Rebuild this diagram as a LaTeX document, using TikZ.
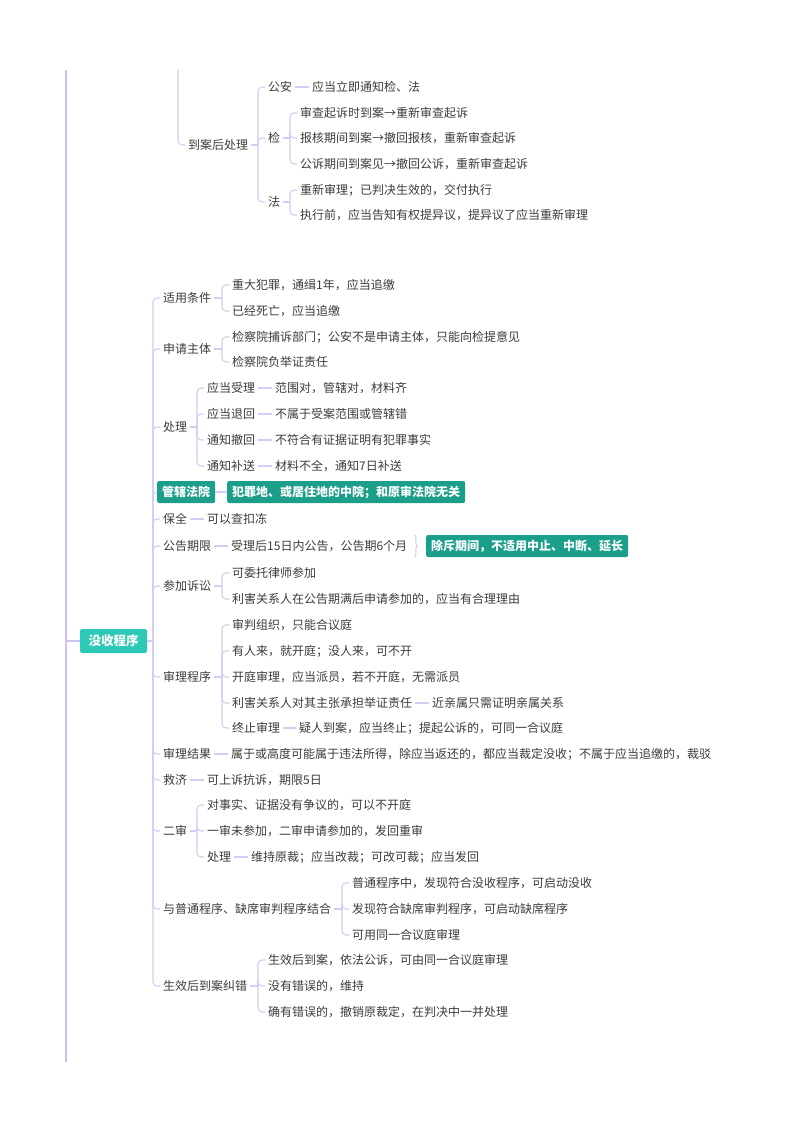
\documentclass[tikz,border=0pt]{standalone}
\usepackage{fontspec}
\setmainfont{Noto Sans CJK SC}
\usetikzlibrary{decorations.pathreplacing}
\definecolor{mmink}{HTML}{3B3B3B}
\definecolor{mmline}{HTML}{D3CCF4}
\definecolor{mmtrunk}{HTML}{CAC2F1}
\definecolor{mmroot}{HTML}{2EC8B6}
\definecolor{mmteal}{HTML}{1B9E8A}
\tikzset{
  mm text/.style={font=\fontsize{12}{14}\selectfont, text=mmink},
  mm topic/.style={anchor=west, inner xsep=3pt, inner ysep=2pt},
  mm root/.style={fill=mmroot, rounded corners=2pt, text=white, inner sep=0pt,
    minimum width=67pt, minimum height=24pt, font=\fontsize{12.5}{14}\selectfont\bfseries},
  mm mark/.style={anchor=west, fill=mmteal, rounded corners=2pt, text=white, inner xsep=5pt,
    minimum height=22pt, font=\fontsize{12}{14}\selectfont\bfseries},
  mm link/.style={draw=mmline, line width=1.1pt, rounded corners=4pt},
  mm trunk/.style={draw=mmtrunk, line width=2pt},
  mm brace/.style={draw=mmline, line width=1.1pt, decorate, decoration={brace, amplitude=3pt}}
}

\begin{document}
\begin{tikzpicture}[mm text, x=1pt, y=-1pt]
  \useasboundingbox (0,0) rectangle (800,1132);
  \coordinate (trunktop) at (66,70);
  \coordinate (trunkbot) at (66,1062);
  \coordinate (prev) at (178,70);
  % 到案后处理
  \node[mm topic] (dah) at (185,145) {到案后处理};
  \node[mm topic] (ga) at (265,87) {公安};
  \node[mm topic] (jian) at (265,138) {检};
  \node[mm topic] (fa) at (265,202) {法};
  \node[mm topic] (ga1) at (309,87) {应当立即通知检、法};
  \foreach \nm/\yy/\txt in {jian1/113/审查起诉时到案→重新审查起诉,
      jian2/138/报核期间到案→撤回报核，重新审查起诉,
      jian3/164/公诉期间到案见→撤回公诉，重新审查起诉,
      fa1/190/重新审理；已判决生效的，交付执行,
      fa2/215/执行前，应当告知有权提异议，提异议了应当重新审理}
    \node[mm topic] (\nm) at (297,\yy) {\txt};
  \coordinate (dahb) at (258,145);
  \coordinate (jianb) at (290,138);
  \coordinate (fab) at (290,202);
  \draw[mm link] (prev) |- (dah.west);
  \draw[mm link] (dah.east) -- (dahb);
  \foreach \c in {ga,jian,fa} \draw[mm link] (dahb) |- (\c.west);
  \draw[mm link] (jian.east) -- (jianb);
  \foreach \c in {jian1,jian2,jian3} \draw[mm link] (jianb) |- (\c.west);
  \draw[mm link] (fa.east) -- (fab);
  \foreach \c in {fa1,fa2} \draw[mm link] (fab) |- (\c.west);
  % 没收程序
  \node[mm root] (root) at (113.5,641) {没收程序};
  \coordinate (rootb) at (153,641);
  \foreach \nm/\yy/\txt in {sy/298/适用条件, sq/349/申请主体, cl/427/处理, bq/519/保全,
      gg/546/公告期限, cj/586/参加诉讼, sl/677/审理程序, jg/754/审理结果, jj/780/救济,
      es/831/二审, jh/909/与普通程序、缺席审判程序结合, sx/986/生效后到案纠错}
    \node[mm topic] (\nm) at (160,\yy) {\txt};
  \node[mm mark] (gx) at (157,492) {管辖法院};
  \node[mm mark] (gx1) at (227,492) {犯罪地、或居住地的中院；和原审法院无关};
  \foreach \nm/\xx/\yy/\txt in {sy1/229/285/重大犯罪，通缉1年，应当追缴,
      sy2/229/311/已经死亡，应当追缴,
      sq1/229/337/检察院捕诉部门；公安不是申请主体，只能向检提意见,
      sq2/229/362/检察院负举证责任,
      yl/204/388/应当受理, yl1/272/388/范围对，管辖对，材料齐,
      yt/204/414/应当退回, yt1/272/414/不属于受案范围或管辖错,
      tc/204/440/通知撤回, tc1/272/440/不符合有证据证明有犯罪事实,
      tb/204/466/通知补送, tb1/272/466/材料不全，通知7日补送,
      bq1/204/519/可以查扣冻,
      gg1/228/546/受理后15日内公告，公告期6个月,
      cj1/229/573/可委托律师参加,
      cj2/229/599/利害关系人在公告期满后申请参加的，应当有合理理由,
      sl1/229/625/审判组织，只能合议庭,
      sl2/229/651/有人来，就开庭；没人来，可不开,
      sl3/229/677/开庭审理，应当派员，若不开庭，无需派员,
      sl4/229/703/利害关系人对其主张承担举证责任, sl41/429/703/近亲属只需证明亲属关系,
      sl5/229/728/终止审理, sl51/296/728/疑人到案，应当终止；提起公诉的，可同一合议庭,
      jg1/228/754/属于或高度可能属于违法所得，除应当返还的，都应当裁定没收；不属于应当追缴的，裁驳,
      jj1/204/780/可上诉抗诉，期限5日,
      es1/204/805/对事实、证据没有争议的，可以不开庭,
      es2/204/831/一审未参加，二审申请参加的，发回重审,
      es3/204/857/处理, es31/248/857/维持原裁；应当改裁；可改可裁；应当发回,
      jh1/349/883/普通程序中，发现符合没收程序，可启动没收,
      jh2/349/909/发现符合缺席审判程序，可启动缺席程序,
      jh3/349/935/可用同一合议庭审理,
      sx1/265/960/生效后到案，依法公诉，可由同一合议庭审理,
      sx2/265/986/没有错误的，维持,
      sx3/265/1012/确有错误的，撤销原裁定，在判决中一并处理}
    \node[mm topic] (\nm) at (\xx,\yy) {\txt};
  \node[mm mark] (cc) at (426,546) {除斥期间，不适用中止、中断、延长};
  \draw[mm trunk] (trunktop) -- (trunkbot);
  \draw[mm trunk] (trunktop |- root.west) -- (root.west);
  \draw[mm link] (root.east) -- (rootb);
  \foreach \c in {sy,sq,cl,gx,bq,gg,cj,sl,jg,jj,es,jh,sx} \draw[mm link] (rootb) |- (\c.west);
  \foreach \p/\bx/\yy/\kids in {sy/222/298/{sy1,sy2}, sq/222/349/{sq1,sq2},
      cl/197/427/{yl,yt,tc,tb}, cj/222/586/{cj1,cj2}, sl/222/677/{sl1,sl2,sl3,sl4,sl5},
      es/197/831/{es1,es2,es3}, jh/342/909/{jh1,jh2,jh3}, sx/258/986/{sx1,sx2,sx3}} {
    \coordinate (\p-b) at (\bx,\yy);
    \draw[mm link] (\p.east) -- (\p-b);
    \foreach \c in \kids \draw[mm link] (\p-b) |- (\c.west);
  }
  \foreach \a/\b in {ga/ga1, yl/yl1, yt/yt1, tc/tc1, tb/tb1, gx/gx1, bq/bq1, gg/gg1,
      sl4/sl41, sl5/sl51, jg/jg1, jj/jj1, es3/es31}
    \draw[mm link] (\a.east) -- (\b.west);
  \draw[mm brace] ([shift={(4,-11)}]gg1.east) -- ([shift={(4,11)}]gg1.east);
\end{tikzpicture}
\end{document}
